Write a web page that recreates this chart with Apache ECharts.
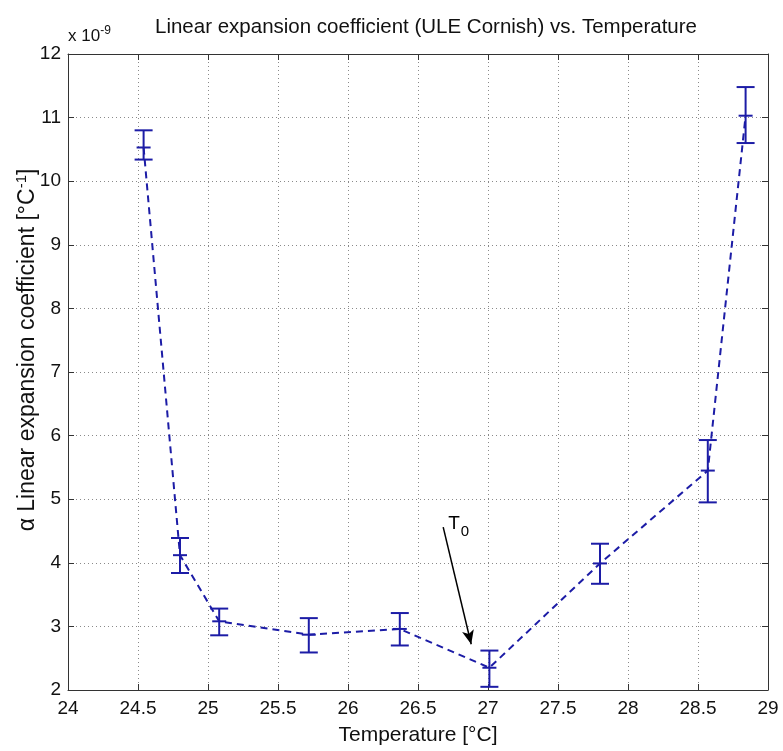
<!DOCTYPE html>
<html>
<head>
<meta charset="utf-8">
<script src="https://cdn.jsdelivr.net/npm/echarts@6/dist/echarts.min.js"></script>
<style>
  html, body { margin: 0; padding: 0; background: #fff; }
  #chart { width: 783px; height: 751px; }
</style>
</head>
<body>
<div id="chart"></div>
<script>
// Data (alpha in units of 1e-9 /°C)
var temps = [24.54, 24.80, 25.08, 25.72, 26.37, 27.01, 27.80, 28.57, 28.84];
var alpha = [10.53, 4.12, 3.08, 2.87, 2.96, 2.35, 3.99, 5.45, 11.03];
var errLow = [10.34, 3.84, 2.86, 2.59, 2.70, 2.05, 3.67, 4.95, 10.60];
var errHigh = [10.80, 4.39, 3.28, 3.13, 3.21, 2.62, 4.30, 5.93, 11.48];

// T0 arrow (data coords)
var arrowFrom = [26.68, 4.56];
var arrowTo = [26.88, 2.72];
var t0Pos = [26.79, 4.62];

var FONT = 'Liberation Sans, Arial, sans-serif';
var BLUE = '#1c1ca6';

(function() {
  var chart = echarts.init(document.getElementById('chart'), null, { renderer: 'canvas' });

  var lineData = temps.map(function(t, i) { return [t, alpha[i]]; });
  var errData = temps.map(function(t, i) { return [t, errLow[i], errHigh[i], alpha[i]]; });

  // error bars drawn through the axis scales
  function renderErr(params, api) {
    var lo = api.coord([api.value(0), api.value(1)]);
    var hi = api.coord([api.value(0), api.value(2)]);
    var mid = api.coord([api.value(0), api.value(3)]);
    var w = 9;
    var style = { stroke: BLUE, lineWidth: 2 };
    return {
      type: 'group',
      children: [
        { type: 'line', shape: { x1: lo[0], y1: lo[1], x2: hi[0], y2: hi[1] }, style: style },
        { type: 'line', shape: { x1: lo[0] - w, y1: lo[1], x2: lo[0] + w, y2: lo[1] }, style: style },
        { type: 'line', shape: { x1: hi[0] - w, y1: hi[1], x2: hi[0] + w, y2: hi[1] }, style: style },
        { type: 'line', shape: { x1: mid[0] - 7, y1: mid[1], x2: mid[0] + 7, y2: mid[1] }, style: style }
      ]
    };
  }

  var gridLine = { show: true, lineStyle: { color: '#8a8a8a', type: [1, 3], width: 1 } };
  var axisLine = { show: true, lineStyle: { color: '#333', width: 1 } };
  var tickIn = { show: true, inside: true, length: 6, lineStyle: { color: '#333' } };
  var label = { color: '#111', fontSize: 19, fontFamily: FONT };

  chart.setOption({
    animation: false,
    backgroundColor: '#fff',
    title: {
      text: 'Linear expansion coefficient (ULE Cornish) vs. Temperature',
      left: 421,
      textAlign: 'center',
      top: 12,
      textStyle: { color: '#111', fontSize: 20.5, fontWeight: 'normal', fontFamily: FONT }
    },
    graphic: [{
      type: 'text',
      left: 68,
      top: 25,
      style: {
        text: 'x 10{sup|-9}',
        fill: '#111',
        font: '17px ' + FONT,
        rich: { sup: { fontSize: 12, fontFamily: FONT, fill: '#111', verticalAlign: 'top', padding: [0, 0, 10, 0] } }
      }
    }, {
      // y axis title, rotated
      type: 'text',
      x: 28,
      y: 350,
      rotation: Math.PI / 2,
      style: {
        text: 'α Linear expansion coefficient [°C{sup|-1}]',
        fill: '#111',
        font: '23px ' + FONT,
        align: 'center',
        verticalAlign: 'middle',
        rich: { sup: { fontSize: 15, fontFamily: FONT, fill: '#111', verticalAlign: 'top', padding: [0, 0, 12, 0] } }
      }
    }],
    grid: { left: 68, right: 15, top: 54, bottom: 58 },
    xAxis: [{
      type: 'value', min: 24, max: 29, interval: 0.5,
      name: 'Temperature [°C]', nameLocation: 'middle', nameGap: 35,
      nameTextStyle: { color: '#111', fontSize: 21, fontFamily: FONT },
      axisLine: axisLine, axisTick: tickIn, splitLine: gridLine,
      axisLabel: Object.assign({ margin: 9 }, label)
    }, {
      type: 'value', min: 24, max: 29, interval: 0.5, position: 'top',
      axisLine: axisLine, axisTick: tickIn, splitLine: { show: false },
      axisLabel: { show: false }
    }],
    yAxis: [{
      type: 'value', min: 2, max: 12, interval: 1,
      axisLine: axisLine, axisTick: tickIn, splitLine: gridLine,
      axisLabel: Object.assign({ margin: 7 }, label)
    }, {
      type: 'value', min: 2, max: 12, interval: 1, position: 'right',
      axisLine: axisLine, axisTick: tickIn, splitLine: { show: false },
      axisLabel: { show: false }
    }],
    series: [{
      type: 'line',
      data: lineData,
      symbol: 'none',
      lineStyle: { color: BLUE, width: 2, type: [7, 5] },
      z: 3,
      markLine: {
        silent: true,
        symbol: ['none', 'arrow'],
        symbolSize: [9, 14],
        lineStyle: { color: '#000', width: 1.5, type: 'solid' },
        label: { show: false },
        data: [[{ coord: arrowFrom }, { coord: arrowTo }]]
      },
      markPoint: {
        silent: true,
        symbol: 'circle',
        symbolSize: 1,
        itemStyle: { color: 'rgba(0,0,0,0)' },
        data: [{
          coord: t0Pos,
          label: {
            show: true,
            position: 'inside',
            formatter: 'T{sub|0}',
            color: '#000', fontSize: 19, fontFamily: FONT,
            rich: { sub: { fontSize: 15, fontFamily: FONT, color: '#000', verticalAlign: 'bottom', padding: [16, 0, 0, 1] } }
          }
        }]
      }
    }, {
      type: 'custom',
      data: errData,
      renderItem: renderErr,
      encode: { x: 0, y: [1, 2] },
      z: 4
    }]
  });
})();
</script>
</body>
</html>
